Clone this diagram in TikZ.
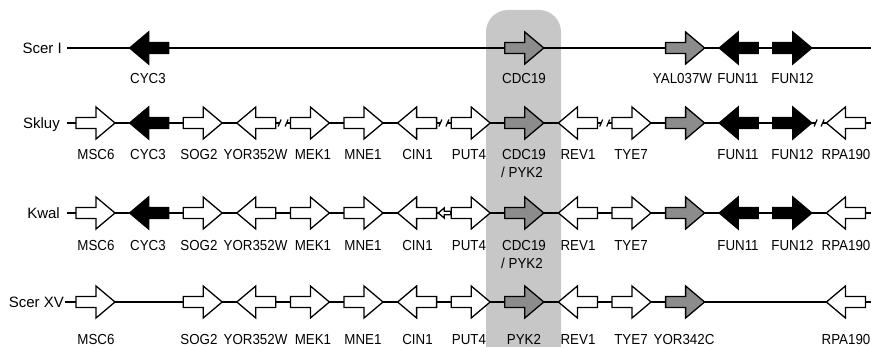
\documentclass[tikz,border=0pt]{standalone}
\usepackage{fontspec}
\setmainfont{Liberation Sans}
\newfontfamily\glfont{Liberation Sans}[FakeStretch=0.92]
\definecolor{hl}{gray}{0.78}
\definecolor{gf}{gray}{0.55}
\tikzset{
  genebox/.style={draw=black, line width=1.3pt, line join=miter},
  wgene/.style={fill=white},
  bgene/.style={fill=black},
  ggene/.style={fill=gf},
  backbone/.style={line width=1.2pt},
  rowlab/.style={anchor=base east, inner sep=0pt, font=\fontsize{15}{18}\selectfont},
  glab/.style={anchor=base, inner sep=0pt, font=\glfont\fontsize{14.5}{17}\selectfont},
}
% #1 name, #2 x, #3 y, #4 direction (1 right, -1 left), #5 style, #6 scale
\newcommand\genearrow[6]{%
  \begin{scope}[shift={(#2,#3)}, xscale=#4*#6, yscale=#6]
    \draw[genebox,#5] (-19.5,-5.5) -- (0.5,-5.5) -- (0.5,-16) -- (19.5,0)
      -- (0.5,16) -- (0.5,5.5) -- (-19.5,5.5) -- cycle;
  \end{scope}
  \coordinate (#1) at (#2,#3);}
% break mark at x=#1, y=#2
\newcommand\breakmark[2]{%
  \draw[backbone] (#1-5,#2+3.5) -- (#1-2,#2-3.5) (#1+2,#2+3.5) -- (#1+5,#2-3.5);}
\begin{document}
\begin{tikzpicture}[x=1pt, y=-1pt]
\useasboundingbox (0,0) rectangle (871,347);
% highlight
\fill[hl] (486,347) [rounded corners=22pt] -- (486,10) -- (561,10) [sharp corners] -- (561,347) -- cycle;

% ---------- row labels ----------
\node[rowlab] (rScerI)  at (62,53.4)  {Scer I};
\node[rowlab] (rSkluy)  at (60,128.4) {Skluy};
\node[rowlab] (rKwal)   at (60,218.4) {Kwal};
\node[rowlab] (rScerXV) at (64,307.4) {Scer XV};

% ---------- backbones ----------
\coordinate (s1) at (67,48);  \coordinate (e1) at (871,48);
\draw[backbone] (s1) -- (e1);

\coordinate (s2) at (67,123); \coordinate (e2) at (871,123);
\coordinate (k1l) at (279.6,123); \coordinate (k1r) at (286.6,123);
\coordinate (k2l) at (440.4,123); \coordinate (k2r) at (447.4,123);
\coordinate (k3l) at (601.2,123); \coordinate (k3r) at (608.2,123);
\coordinate (k4l) at (815.6,123); \coordinate (k4r) at (822.6,123);
\draw[backbone] (s2) -- (k1l) (k1r) -- (k2l) (k2r) -- (k3l) (k3r) -- (k4l) (k4r) -- (e2);
\breakmark{283.1}{123}
\breakmark{443.9}{123}
\breakmark{604.7}{123}
\breakmark{819.1}{123}

\coordinate (s3) at (67,213); \coordinate (e3) at (871,213);
\draw[backbone] (s3) -- (e3);

\coordinate (s4) at (65,302); \coordinate (e4) at (871,302);
\draw[backbone] (s4) -- (e4);

% ---------- genes ----------
% Scer I
\foreach \i/\d/\s in {1/-1/bgene, 8/1/ggene, 11/1/ggene, 12/-1/bgene, 13/1/bgene}
  {\genearrow{a\i}{95.5+53.6*\i}{48}{\d}{\s}{1}}
% Skluy
\foreach \i/\d/\s in {0/1/wgene, 1/-1/bgene, 2/1/wgene, 3/-1/wgene, 4/1/wgene, 5/1/wgene,
  6/-1/wgene, 7/1/wgene, 8/1/ggene, 9/-1/wgene, 10/1/wgene, 11/1/ggene, 12/-1/bgene,
  13/1/bgene, 14/-1/wgene}
  {\genearrow{b\i}{95.5+53.6*\i}{123}{\d}{\s}{1}}
% Kwal
\foreach \i/\d/\s in {0/1/wgene, 1/-1/bgene, 2/1/wgene, 3/-1/wgene, 4/1/wgene, 5/1/wgene,
  6/-1/wgene, 7/1/wgene, 8/1/ggene, 9/-1/wgene, 10/1/wgene, 11/1/ggene, 12/-1/bgene,
  13/1/bgene, 14/-1/wgene}
  {\genearrow{c\i}{95.5+53.6*\i}{213}{\d}{\s}{1}}
\genearrow{csmall}{444.5}{213}{-1}{wgene}{0.32}
% Scer XV
\foreach \i/\d/\s in {0/1/wgene, 2/1/wgene, 3/-1/wgene, 4/1/wgene, 5/1/wgene,
  6/-1/wgene, 7/1/wgene, 8/1/ggene, 9/-1/wgene, 10/1/wgene, 11/1/ggene, 14/-1/wgene}
  {\genearrow{d\i}{95.5+53.6*\i}{302}{\d}{\s}{1}}

% ---------- gene labels ----------
% Scer I
\node[glab] (la1)  at (148,83.7) {CYC3};
\node[glab] (la8)  at (524,83.7) {CDC19};
\node[glab] (la11) at (682.5,83.7) {YAL037W};
\node[glab] (la12) at (738,83.7) {FUN11};
\node[glab] (la13) at (792.5,83.7) {FUN12};
% Skluy and Kwal
\foreach \r/\yy in {b/159.7, c/250.5} {
  \node[glab] (l\r0)  at (96,\yy)    {MSC6};
  \node[glab] (l\r1)  at (148,\yy)   {CYC3};
  \node[glab] (l\r2)  at (199,\yy)   {SOG2};
  \node[glab] (l\r3)  at (255.5,\yy) {YOR352W};
  \node[glab] (l\r4)  at (313,\yy)   {MEK1};
  \node[glab] (l\r5)  at (363,\yy)   {MNE1};
  \node[glab] (l\r6)  at (417.5,\yy) {CIN1};
  \node[glab] (l\r7)  at (469,\yy)   {PUT4};
  \node[glab] (l\r8)  at (524,\yy)   {CDC19};
  \node[glab] (l\r8b) at (522,\yy+18) {/ PYK2};
  \node[glab] (l\r9)  at (578,\yy)   {REV1};
  \node[glab] (l\r10) at (631,\yy)   {TYE7};
  \node[glab] (l\r12) at (738,\yy)   {FUN11};
  \node[glab] (l\r13) at (792.5,\yy) {FUN12};
  \node[glab] (l\r14) at (846,\yy)   {RPA190};
}
% Scer XV
\def\yy{345}
\node[glab] (ld0)  at (96,\yy)    {MSC6};
\node[glab] (ld2)  at (199,\yy)   {SOG2};
\node[glab] (ld3)  at (255.5,\yy) {YOR352W};
\node[glab] (ld4)  at (313,\yy)   {MEK1};
\node[glab] (ld5)  at (363,\yy)   {MNE1};
\node[glab] (ld6)  at (417.5,\yy) {CIN1};
\node[glab] (ld7)  at (469,\yy)   {PUT4};
\node[glab] (ld8)  at (524,\yy)   {PYK2};
\node[glab] (ld9)  at (578,\yy)   {REV1};
\node[glab] (ld10) at (631,\yy)   {TYE7};
\node[glab] (ld11) at (684,\yy)   {YOR342C};
\node[glab] (ld14) at (846,\yy)   {RPA190};
\end{tikzpicture}
\end{document}
